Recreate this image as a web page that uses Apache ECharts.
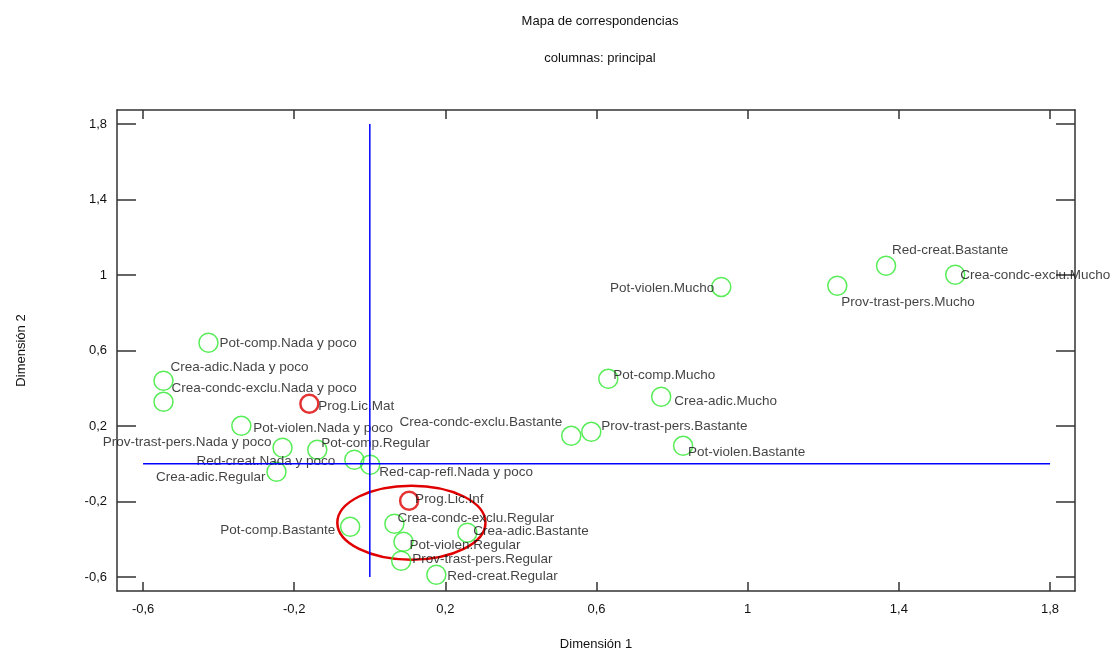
<!DOCTYPE html>
<html>
<head>
<meta charset="utf-8">
<script src="https://cdn.jsdelivr.net/npm/echarts@6/dist/echarts.min.js"></script>
<style>
  html, body { margin: 0; background: #fff; }
  #chart { width: 1112px; height: 651px; }
</style>
</head>
<body>
<div id="chart"></div>
<script>
// column points (green)
const colNames = [
  'Pot-comp.Nada y poco', 'Crea-adic.Nada y poco', 'Crea-condc-exclu.Nada y poco',
  'Pot-violen.Nada y poco', 'Prov-trast-pers.Nada y poco', 'Pot-comp.Regular',
  'Red-creat.Nada y poco', 'Red-cap-refl.Nada y poco', 'Crea-adic.Regular',
  'Crea-condc-exclu.Regular', 'Pot-comp.Bastante', 'Crea-adic.Bastante',
  'Pot-violen.Regular', 'Prov-trast-pers.Regular', 'Red-creat.Regular',
  'Crea-condc-exclu.Bastante', 'Prov-trast-pers.Bastante', 'Pot-comp.Mucho',
  'Crea-adic.Mucho', 'Pot-violen.Bastante', 'Pot-violen.Mucho',
  'Prov-trast-pers.Mucho', 'Red-creat.Bastante', 'Crea-condc-exclu.Mucho'
]
const colX = [-0.427, -0.546, -0.546, -0.340, -0.231, -0.139, -0.041, 0.001, -0.247,
  0.065, -0.052, 0.258, 0.089, 0.083, 0.176, 0.533, 0.586, 0.631, 0.771, 0.829,
  0.930, 1.237, 1.366, 1.549]
const colY = [0.641, 0.440, 0.328, 0.201, 0.085, 0.074, 0.021, -0.005, -0.042,
  -0.318, -0.334, -0.365, -0.413, -0.514, -0.588, 0.148, 0.169, 0.450, 0.355, 0.095,
  0.937, 0.943, 1.049, 1.001]

// row points (red)
const rowNames = ['Prog.Lic.Mat', 'Prog.Lic.Inf']
const rowX = [-0.160, 0.104]
const rowY = [0.318, -0.196]

// label placement: [dx, dy, align] from the point centre
const colLabelPos = [
  [11, 1, 'left'], [7, -13, 'left'], [8, -14, 'left'], [12, 2, 'left'],
  [-11, -5, 'right'], [4, -7, 'left'], [-19, 1, 'right'], [9, 8, 'left'],
  [-11, 6, 'right'], [3, -6, 'left'], [-15, 3, 'right'], [6, -1, 'left'],
  [6, 4, 'left'], [11, -2, 'left'], [11, 2, 'left'], [-9, -14, 'right'],
  [10, -6, 'left'], [5, -4, 'left'], [13, 5, 'left'], [5, 6, 'left'],
  [-7, 1, 'right'], [4, 17, 'left'], [6, -15, 'left'], [5, 0, 'left']
]
const rowLabelPos = [[9, 3, 'left'], [6, -1, 'left']]

const xTicks = [-0.6, -0.2, 0.2, 0.6, 1, 1.4, 1.8]
const yTicks = [-0.6, -0.2, 0.2, 0.6, 1, 1.4, 1.8]

// blue reference lines through the origin
const hLine = [[-0.6, 0], [1.8, 0]]
const vLine = [[0, -0.6], [0, 1.8]]

// highlighted area: [cx, cy, rx, ry]
const ellipse = [0.110, -0.312, 0.196, 0.196]

const textColor = '#111'
const font = 'Liberation Sans, Arial, sans-serif'
const fmt = (v) => String(Math.round(v * 10) / 10).replace('.', ',')

const points = (names, xs, ys, pos) => names.map((n, i) => ({
  name: n,
  value: [xs[i], ys[i]],
  label: { align: pos[i][2], offset: [pos[i][0], pos[i][1]] }
}))

const frame = { color: '#333', width: 1.5 }

const chart = echarts.init(document.getElementById('chart'))

const xBase = {
  type: 'value', min: -0.669, max: 1.866,
  axisLine: { onZero: false, lineStyle: frame },
  axisTick: { inside: true, length: 9, customValues: xTicks, lineStyle: frame },
  splitLine: { show: false }
}
const yBase = {
  type: 'value', min: -0.674, max: 1.874,
  axisLine: { onZero: false, lineStyle: frame },
  axisTick: { inside: true, length: 19, customValues: yTicks, lineStyle: frame },
  splitLine: { show: false }
}

chart.setOption({
  animation: false,
  backgroundColor: '#fff',
  textStyle: { fontFamily: font },
  title: [
    { text: 'Mapa de correspondencias', left: 595, textAlign: 'center', top: 10,
      textStyle: { fontSize: 13, fontWeight: 'normal', color: textColor, fontFamily: font } },
    { text: 'columnas: principal', left: 595, textAlign: 'center', top: 47,
      textStyle: { fontSize: 13, fontWeight: 'normal', color: textColor, fontFamily: font } }
  ],
  grid: { left: 117, right: 37, top: 110, bottom: 60, outerBoundsMode: 'none' },
  xAxis: [
    Object.assign({}, xBase, {
      position: 'bottom',
      axisLabel: { customValues: xTicks, formatter: fmt, color: textColor, fontSize: 13, margin: 12 },
      name: 'Dimensión 1', nameLocation: 'middle', nameGap: 47, nameMoveOverlap: false,
      nameTextStyle: { fontSize: 13, color: textColor }
    }),
    Object.assign({}, xBase, { position: 'top', axisLabel: { show: false } })
  ],
  yAxis: [
    Object.assign({}, yBase, {
      position: 'left',
      axisLabel: { customValues: yTicks, formatter: fmt, color: textColor, fontSize: 13, margin: 10 },
      name: 'Dimensión 2', nameLocation: 'middle', nameGap: 89, nameMoveOverlap: false,
      nameTextStyle: { fontSize: 13, color: textColor }
    }),
    Object.assign({}, yBase, { position: 'right', axisLabel: { show: false } })
  ],
  series: [
    {
      type: 'line', data: hLine, showSymbol: false, silent: true,
      lineStyle: { color: '#0000ff', width: 1.5 }
    },
    {
      type: 'line', data: vLine, showSymbol: false, silent: true,
      lineStyle: { color: '#0000ff', width: 1.5 }
    },
    {
      type: 'scatter',
      data: points(colNames, colX, colY, colLabelPos),
      symbol: 'circle', symbolSize: 19,
      itemStyle: { color: 'rgba(0,0,0,0)', borderColor: '#2ee82e', borderWidth: 1.5 },
      label: {
        show: true, position: 'inside', formatter: '{b}', verticalAlign: 'middle',
        color: textColor, fontSize: 13.5, fontFamily: font
      }
    },
    {
      type: 'scatter',
      data: points(rowNames, rowX, rowY, rowLabelPos),
      symbol: 'circle', symbolSize: 18,
      itemStyle: { color: 'rgba(0,0,0,0)', borderColor: '#dd0000', borderWidth: 2.5 },
      label: {
        show: true, position: 'inside', formatter: '{b}', verticalAlign: 'middle',
        color: textColor, fontSize: 13.5, fontFamily: font
      }
    },
    {
      type: 'custom',
      silent: true,
      data: [ellipse],
      renderItem: (params, api) => {
        const c = api.coord([api.value(0), api.value(1)])
        const s = api.size([api.value(2), api.value(3)])
        return {
          type: 'ellipse',
          shape: { cx: c[0], cy: c[1], rx: s[0], ry: s[1] },
          style: { fill: 'none', stroke: '#e00000', lineWidth: 2.5 }
        }
      }
    }
  ]
})
</script>
</body>
</html>
